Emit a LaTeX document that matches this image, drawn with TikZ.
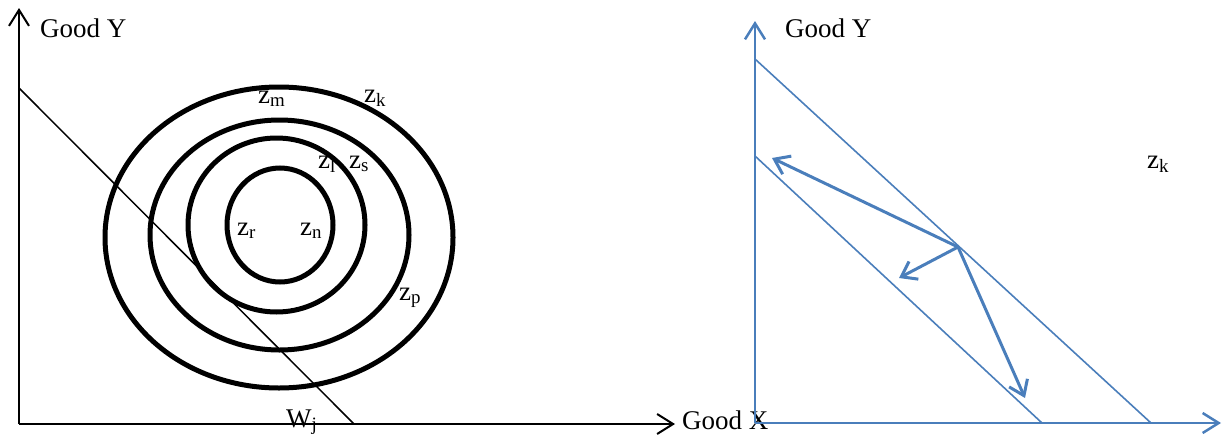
\documentclass[tikz,border=0pt]{standalone}
\usepackage{fontspec}
\setmainfont{Liberation Serif}
\usetikzlibrary{arrows.meta}
\definecolor{axblue}{RGB}{74,126,187}
\tikzset{
  lbl/.style={anchor=base west, inner sep=0pt, font=\fontsize{27}{30}\selectfont},
  blackaxis/.style={line width=2pt, -{Straight Barb[length=16pt,width=20pt,line width=2pt]}},
  ring/.style={line width=5pt},
  budget/.style={line width=1.5pt},
  blueaxis/.style={axblue, line width=2.5pt, -{Straight Barb[length=16pt,width=20pt,line width=2.5pt]}},
  blueline/.style={axblue, line width=1.6pt},
  bluearrow/.style={axblue, line width=3pt, -{Straight Barb[length=14pt,width=20pt,line width=3pt]}}
}
\newcommand{\zsub}[1]{z\textsubscript{#1}}
\begin{document}
\begin{tikzpicture}[x=1pt,y=-1pt]
\useasboundingbox (0,0) rectangle (1222,439);
% ---------- left diagram ----------
\coordinate (O1) at (19,424);
\coordinate (Y1) at (19,8);
\coordinate (X1) at (675,424);
\coordinate (B1) at (19,88);
\coordinate (B2) at (354,424);
\node[lbl] (gy1) at (40,37) {Good Y};
\node[lbl] (gx1) at (682,429) {Good X};
\node[lbl] (zm) at (258,103) {\zsub{m}};
\node[lbl] (zk1) at (364,102) {\zsub{k}};
\node[lbl] (zl) at (318,168) {\zsub{l}};
\node[lbl] (zs) at (349,168) {\zsub{s}};
\node[lbl] (zr) at (237,235) {\zsub{r}};
\node[lbl] (zn) at (300,235) {\zsub{n}};
\node[lbl] (zp) at (399,300) {\zsub{p}};
\node[lbl] (wj) at (286,427) {W\textsubscript{j}};
\draw[ring] (279,237.5) ellipse [x radius=174, y radius=150.5];
\draw[ring] (279.5,235) ellipse [x radius=129.5, y radius=115];
\draw[ring] (276.5,225) ellipse [x radius=88.5, y radius=87];
\draw[ring] (280,225) ellipse [x radius=53, y radius=57];
\draw[budget] (B1) -- (B2);
\draw[blackaxis] (O1) -- (Y1);
\draw[blackaxis] (O1) -- (X1);
% ---------- right diagram ----------
\coordinate (O2) at (755,423);
\coordinate (Y2) at (755,21);
\coordinate (X2) at (1221,423);
\coordinate (U1) at (755,59);
\coordinate (U2) at (1151,423);
\coordinate (L1) at (755,156);
\coordinate (L2) at (1042,423);
\coordinate (P) at (958,247);
\coordinate (T1) at (772,158);
\coordinate (T2) at (899,278);
\coordinate (T3) at (1025,398);
\node[lbl] (gy2) at (785,37) {Good Y};
\node[lbl] (zk2) at (1147,168) {\zsub{k}};
\draw[blueline] (U1) -- (U2);
\draw[blueline] (L1) -- (L2);
\draw[bluearrow] (P) -- (T1);
\draw[bluearrow] (P) -- (T2);
\draw[bluearrow] (P) -- (T3);
\draw[blueaxis] (O2) -- (Y2);
\draw[blueaxis] (O2) -- (X2);
\end{tikzpicture}
\end{document}
